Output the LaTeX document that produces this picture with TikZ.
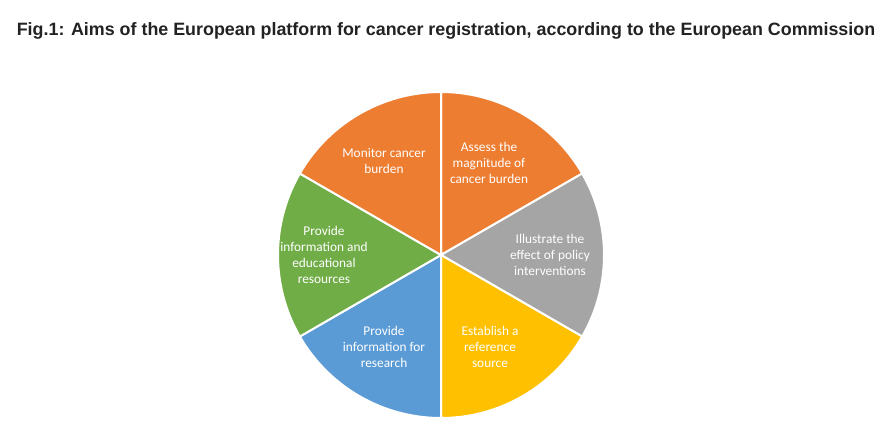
\documentclass[tikz,border=0pt]{standalone}
\usepackage{fontspec}
\setmainfont{Carlito}
\newfontfamily\titlefont{Liberation Sans}
\definecolor{po}{HTML}{ED7D31}
\definecolor{pg}{HTML}{A5A5A5}
\definecolor{py}{HTML}{FFC000}
\definecolor{pb}{HTML}{5B9BD5}
\definecolor{pgr}{HTML}{70AD47}
\definecolor{tc}{HTML}{222222}
\begin{document}
\begin{tikzpicture}[x=0.75pt,y=-0.75pt,
  slice/.style={draw=white,line width=1.5pt},
  lab/.style={text=white,align=center,font=\fontsize{10pt}{12pt}\selectfont}]
\useasboundingbox (0,0) rectangle (880,444);
\fill[white] (0,0) rectangle (880,444);
\coordinate (c) at (441,255);
\def\R{163}
\foreach \a/\col in {-90/po,-30/pg,30/py,90/pb,150/pgr,-150/po}{
  \fill[\col,slice] (c) -- ++(\a:\R) arc[start angle=\a,delta angle=60,radius=\R] -- cycle;
}
\node[text=tc,font=\titlefont\bfseries\fontsize{13.4pt}{15pt}\selectfont] (t) at (446,31) {Fig.1: Aims of the European platform for cancer registration, according to the European Commission};
\node[lab] (l1) at (384,161) {Monitor cancer\\burden};
\node[lab] (l2) at (489,163) {Assess the\\magnitude of\\cancer burden};
\node[lab] (l3) at (550,255) {Illustrate the\\effect of policy\\interventions};
\node[lab] (l4) at (490,347) {Establish a\\reference\\source};
\node[lab] (l5) at (384,347) {Provide\\information for\\research};
\node[lab] (l6) at (324,255) {Provide\\information and\\educational\\resources};
\end{tikzpicture}
\end{document}
